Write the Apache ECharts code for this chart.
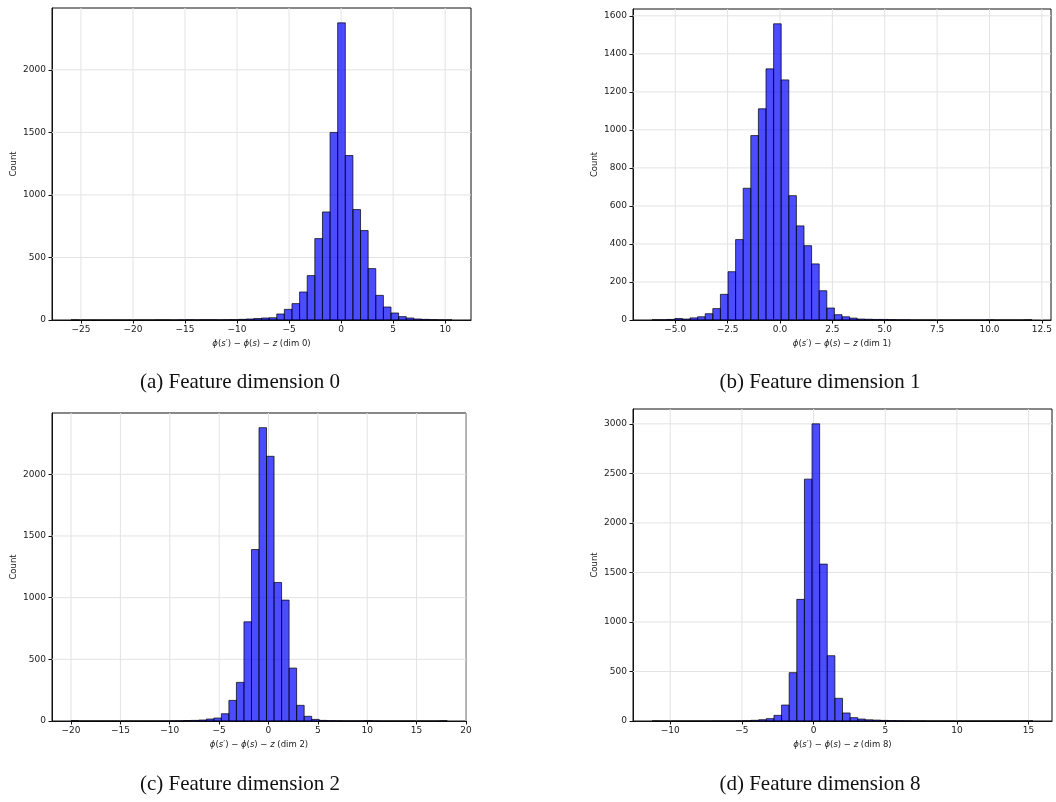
<!DOCTYPE html>
<html>
<head>
<meta charset="utf-8">
<script src="https://cdn.jsdelivr.net/npm/echarts@6/dist/echarts.min.js"></script>
<style>
html,body{margin:0;padding:0;background:#fff;}
#chart{width:1056px;height:802px;}
</style>
</head>
<body>
<div id="chart"></div>
<script>
// ---------- DATA ----------
// Panel (a): feature dimension 0
const binStartA = -25.95, binWidthA = 0.732;
const countsA = [1,0,0,0,0,0,0,0,0,0,0,1,1,0,1,2,1,2,2,1,2,3,5,8,12,16,18,48,85,131,224,355,651,864,1500,2376,1315,883,715,411,197,104,56,27,16,8,5,3,1,1];
const xTicksA = [-25,-20,-15,-10,-5,0,5,10];
const yTicksA = [0,500,1000,1500,2000];

// Panel (b): feature dimension 1
const binStartB = -6.11, binWidthB = 0.3628;
const countsB = [1,1,3,8,5,11,17,33,60,135,254,423,693,970,1111,1321,1558,1263,654,495,391,295,154,63,28,17,10,5,4,3,3,2,1,1,0,0,0,0,0,0,0,0,0,0,1,0,0,0,0,1];
const xTicksB = [-5.0,-2.5,0.0,2.5,5.0,7.5,10.0,12.5];
const yTicksB = [0,200,400,600,800,1000,1200,1400,1600];

// Panel (c): feature dimension 2
const binStartC = -20.02, binWidthC = 0.7624;
const countsC = [3,0,0,0,0,0,0,0,0,0,0,0,0,1,2,4,5,8,16,24,59,167,313,804,1390,2378,2146,1123,980,429,127,38,13,5,3,2,1,1,1,3,1,0,0,0,0,0,0,0,0,2];
const xTicksC = [-20,-15,-10,-5,0,5,10,15,20];
const yTicksC = [0,500,1000,1500,2000];

// Panel (d): feature dimension 8
const binStartD = -11.27, binWidthD = 0.5315;
const countsD = [1,0,0,0,0,0,0,0,1,1,1,2,3,7,13,24,57,161,488,1228,2442,3000,1584,659,229,81,34,20,12,9,6,4,3,2,1,1,0,0,0,0,0,0,0,0,0,0,0,0,0,1];
const xTicksD = [-10,-5,0,5,10,15];
const yTicksD = [0,500,1000,1500,2000,2500,3000];

const dimLabels = ['0','1','2','8'];
const captions = ['(a) Feature dimension 0','(b) Feature dimension 1','(c) Feature dimension 2','(d) Feature dimension 8'];

// ---------- BUILD ----------
const panels = [
  {start:binStartA, width:binWidthA, counts:countsA, xt:xTicksA, yt:yTicksA, dec:0,
   grid:{left:52, top:8, width:419, height:312}},
  {start:binStartB, width:binWidthB, counts:countsB, xt:xTicksB, yt:yTicksB, dec:1,
   grid:{left:633, top:9, width:418, height:311}},
  {start:binStartC, width:binWidthC, counts:countsC, xt:xTicksC, yt:yTicksC, dec:0,
   grid:{left:52, top:413, width:414, height:308}},
  {start:binStartD, width:binWidthD, counts:countsD, xt:xTicksD, yt:yTicksD, dec:0,
   grid:{left:633, top:409, width:419, height:312}}
];
const capPos = [[240,382],[820,382],[240,784],[820,784]];

const FONT = 'DejaVu Sans';
const TXT = '#1a1a1a';
const fmtNum = (v, dec) => {
  const s = Number(v).toFixed(dec);
  return s.replace('-', '\u2212');
};

const option = {
  backgroundColor:'#fff',
  animation:false,
  grid:[], xAxis:[], yAxis:[], series:[],
  graphic:[]
};

panels.forEach((p, gi) => {
  const n = p.counts.length;
  const end = p.start + n * p.width;
  const R = end - p.start;
  const xmin = p.start - 0.05 * R, xmax = end + 0.05 * R;
  const cmax = Math.max.apply(null, p.counts);
  const ymax = cmax * 1.05;

  option.grid.push(Object.assign({show:true, borderColor:'#111', borderWidth:1, backgroundColor:'transparent'}, p.grid));

  option.xAxis.push({
    type:'value', gridIndex:gi, min:xmin, max:xmax, position:'bottom',
    axisLine:{show:true, onZero:false, lineStyle:{color:'#111', width:1}},
    axisTick:{show:true, length:3.5, customValues:p.xt, lineStyle:{color:'#111'}},
    axisLabel:{show:true, customValues:p.xt, margin:5, fontSize:9, fontFamily:FONT, color:TXT,
      formatter:(v)=>fmtNum(v,p.dec)},
    splitLine:{show:false},
    name:'{i|\u03d5}({i|s}\u2032) \u2212 {i|\u03d5}({i|s}) \u2212 {i|z} (dim '+dimLabels[gi]+')',
    nameLocation:'middle', nameGap:19,
    nameTextStyle:{fontSize:8.5, fontFamily:FONT, color:TXT,
      rich:{i:{fontStyle:'italic', fontSize:8.5, fontFamily:FONT, color:TXT}}}
  });

  option.yAxis.push({
    type:'value', gridIndex:gi, min:0, max:ymax, position:'left',
    axisLine:{show:true, onZero:false, lineStyle:{color:'#111', width:1}},
    axisTick:{show:true, length:3.5, customValues:p.yt, lineStyle:{color:'#111'}},
    axisLabel:{show:true, customValues:p.yt, margin:6, fontSize:9, fontFamily:FONT, color:TXT,
      formatter:(v)=>fmtNum(v,0)},
    splitLine:{show:false},
    name:'Count', nameLocation:'middle', nameGap:34,
    nameTextStyle:{fontSize:8.5, fontFamily:FONT, color:TXT}
  });

  // grid lines (x)
  option.series.push({
    type:'custom', xAxisIndex:gi, yAxisIndex:gi, z:1, silent:true,
    data:p.xt.filter(v=>v>xmin && v<xmax).map(v=>[v,0]),
    encode:{x:0, y:1},
    renderItem:(params, api)=>{
      const v = api.value(0);
      const a = api.coord([v,0]), b = api.coord([v,ymax]);
      return {type:'line', shape:{x1:a[0],y1:a[1],x2:b[0],y2:b[1]},
        style:{stroke:'#e3e3e3', lineWidth:1}};
    }
  });
  // grid lines (y)
  option.series.push({
    type:'custom', xAxisIndex:gi, yAxisIndex:gi, z:1, silent:true,
    data:p.yt.filter(v=>v>0 && v<ymax).map(v=>[xmin,v]),
    encode:{x:0, y:1},
    renderItem:(params, api)=>{
      const v = api.value(1);
      const a = api.coord([xmin,v]), b = api.coord([xmax,v]);
      return {type:'line', shape:{x1:a[0],y1:a[1],x2:b[0],y2:b[1]},
        style:{stroke:'#e3e3e3', lineWidth:1}};
    }
  });
  // histogram bars
  option.series.push({
    type:'custom', xAxisIndex:gi, yAxisIndex:gi, z:3, silent:true,
    data:p.counts.map((c,i)=>[p.start + i*p.width, p.start + (i+1)*p.width, c]),
    encode:{x:[0,1], y:2},
    renderItem:(params, api)=>{
      const tl = api.coord([api.value(0), api.value(2)]);
      const br = api.coord([api.value(1), 0]);
      return {type:'rect',
        shape:{x:tl[0], y:tl[1], width:br[0]-tl[0], height:br[1]-tl[1]},
        style:{fill:'rgba(0,0,255,0.7)', stroke:'rgba(0,0,0,0.7)', lineWidth:1}};
    }
  });

  option.graphic.push({
    type:'text', x:capPos[gi][0], y:capPos[gi][1],
    style:{text:captions[gi], font:'21px "Liberation Serif"', fill:'#111',
      textAlign:'center', textVerticalAlign:'middle'}
  });
});

const chart = echarts.init(document.getElementById('chart'), null, {renderer:'canvas'});
chart.setOption(option);
</script>
</body>
</html>
